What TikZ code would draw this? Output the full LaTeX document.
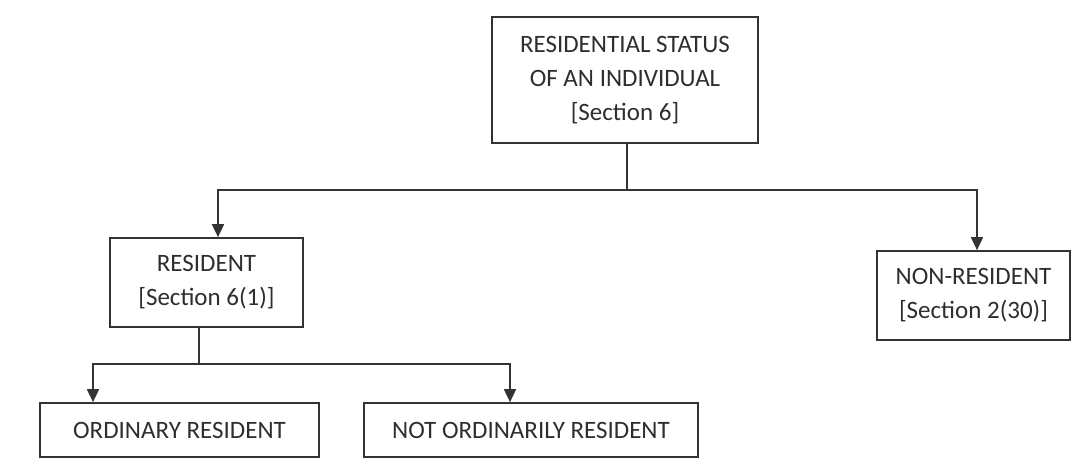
\documentclass[tikz,border=0pt]{standalone}
\usepackage{fontspec}
\setmainfont{Carlito}
\usetikzlibrary{arrows.meta, positioning, calc}
\definecolor{tinta}{HTML}{2E2E2E}
\definecolor{borde}{HTML}{333333}
\tikzset{
  caja/.style={draw=borde, line width=1.7pt, fill=white, align=center, text=tinta, inner sep=0pt,
    font=\fontsize{25}{34}\selectfont},
  flecha/.style={-{Triangle[width=12pt, length=13pt]}, line width=1.7pt, color=borde},
  linea/.style={line width=1.7pt, color=borde},
}
\begin{document}
\begin{tikzpicture}[x=1pt, y=-1pt]
  \useasboundingbox (0,0) rectangle (1092,474);
  \node[caja, minimum width=266pt, minimum height=126pt] (estado) at (625,80) {RESIDENTIAL STATUS\\OF AN INDIVIDUAL\\{[Section 6]}};
  \node[caja, minimum width=193pt, minimum height=89pt] (residente) at (206.5,282.5) {RESIDENT\\{[Section 6(1)]}};
  \node[caja, minimum width=193pt, minimum height=89pt] (noresidente) at (973.5,295.5) {NON-RESIDENT\\{[Section 2(30)]}};
  \node[caja, minimum width=279pt, minimum height=54pt] (ordinario) at (179.5,430) {ORDINARY RESIDENT};
  \node[caja, minimum width=334pt, minimum height=54pt] (noordinario) at (531,430) {NOT ORDINARILY RESIDENT};
  % ramas del primer nivel
  \coordinate (j1) at (627,190);
  \draw[linea] ([xshift=2pt]estado.south) -- (j1);
  \draw[flecha] (j1) -| ([xshift=11.5pt]residente.north);
  \draw[flecha] (j1) -| ([xshift=3.5pt]noresidente.north);
  % ramas del segundo nivel
  \coordinate (j2) at (199,364);
  \draw[linea] ([xshift=-7.5pt]residente.south) -- (j2);
  \draw[flecha] (j2) -| ([xshift=-86.5pt]ordinario.north);
  \draw[flecha] (j2) -| ([xshift=-21pt]noordinario.north);
\end{tikzpicture}
\end{document}
